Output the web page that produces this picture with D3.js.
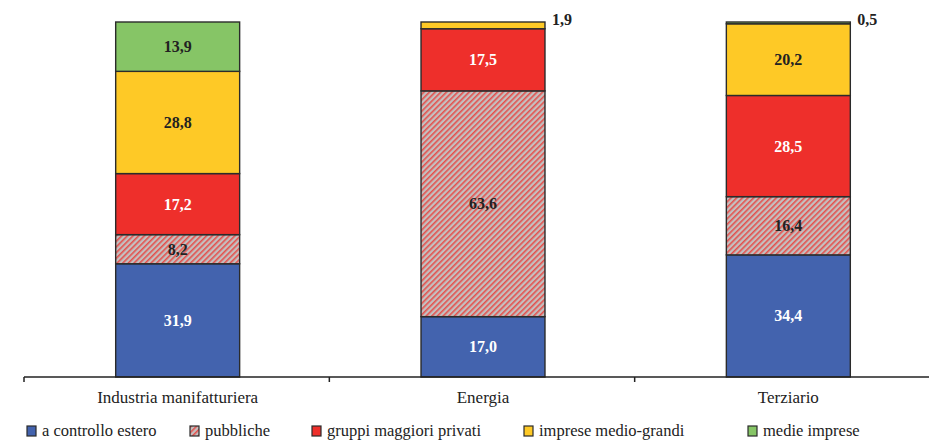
<!DOCTYPE html>
<html>
<head>
<meta charset="utf-8">
<script src="https://cdn.jsdelivr.net/npm/d3@7"></script>
<style>
  body { margin: 0; background: #fff; }
  svg { display: block; }
  svg text { font-family: "Liberation Serif", "DejaVu Serif", serif; }
</style>
</head>
<body>
<svg id="chart" width="929" height="441"></svg>
<script>
// Sectors on the x axis
const categories = ["Industria manifatturiera", "Energia", "Terziario"];
// Series (stack order from bottom to top)
const seriesNames = ["a controllo estero", "pubbliche", "gruppi maggiori privati", "imprese medio-grandi", "medie imprese"];
const esteroVals  = [31.9, 17.0, 34.4];
const pubblicheVals = [8.2, 63.6, 16.4];
const gruppiVals  = [17.2, 17.5, 28.5];
const medioGrandiVals = [28.8, 1.9, 20.2];
const medieVals   = [13.9, 0, 0.5];
const seriesColors = ["#4363ae", "url(#hatch)", "#ee2f2b", "#fec926", "#86c566"];
const labelColors = ["#ffffff", "#222222", "#ffffff", "#222222", "#222222"];

const allVals = [esteroVals, pubblicheVals, gruppiVals, medioGrandiVals, medieVals];
const rows = categories.map((c, i) => {
  const r = { cat: c };
  seriesNames.forEach((s, k) => { r[s] = allVals[k][i]; });
  return r;
});

const svg = d3.select("#chart");
const defs = svg.append("defs");
const pat = defs.append("pattern")
  .attr("id", "hatch").attr("patternUnits", "userSpaceOnUse")
  .attr("width", 4).attr("height", 4)
  .attr("patternTransform", "rotate(45)");
pat.append("rect").attr("width", 4).attr("height", 4).attr("fill", "#c4c0c0");
pat.append("rect").attr("width", 1.6).attr("height", 4).attr("fill", "#e4504c");

const x = d3.scaleBand().domain(categories).range([24, 940]).padding(0);
const barFrac = 0.406;
const y = d3.scaleLinear().domain([0, 100]).range([377, 22]);

const stack = d3.stack().keys(seriesNames);
const stacked = stack(rows);

const layers = svg.append("g").selectAll("g")
  .data(stacked).join("g")
  .attr("fill", (d, i) => seriesColors[i]);

layers.selectAll("rect")
  .data(d => d.filter(p => p[1] - p[0] > 0))
  .join("rect")
  .attr("x", p => x(p.data.cat) + x.bandwidth() * (1 - barFrac) / 2 + 1)
  .attr("width", x.bandwidth() * barFrac)
  .attr("y", p => y(p[1]))
  .attr("height", p => y(p[0]) - y(p[1]))
  .attr("stroke", "#2b2b2b")
  .attr("stroke-width", 1.4);

// value labels: inside the segment, or beside the bar for thin segments
const fmt = v => d3.format(".1f")(v).replace(".", ",");
stacked.forEach((layer, k) => {
  layer.forEach(p => {
    const v = p[1] - p[0];
    if (v <= 0) return;
    const cx = x(p.data.cat) + x.bandwidth() / 2 + 1;
    const inside = v >= 5;
    svg.append("text")
      .attr("x", inside ? cx : x(p.data.cat) + x.bandwidth() * (1 + barFrac) / 2 + 8)
      .attr("y", inside ? y((p[0] + p[1]) / 2) + 5.5 : y(p[1]) + 3)
      .attr("text-anchor", inside ? "middle" : "start")
      .attr("font-weight", "bold")
      .attr("font-size", 16)
      .attr("fill", inside ? labelColors[k] : "#222")
      .text(fmt(v));
  });
});

// category axis with ticks on band boundaries
const axisG = svg.append("g");
axisG.append("line")
  .attr("x1", 24).attr("x2", 940).attr("y1", 377).attr("y2", 377)
  .attr("stroke", "#222").attr("stroke-width", 1.5);
axisG.selectAll("line.tick")
  .data(categories.concat(["_end"]))
  .join("line").attr("class", "tick")
  .attr("x1", (d, i) => i < categories.length ? x(d) : x.range()[1])
  .attr("x2", (d, i) => i < categories.length ? x(d) : x.range()[1])
  .attr("y1", 377).attr("y2", 382)
  .attr("stroke", "#222").attr("stroke-width", 1.5);
axisG.selectAll("text")
  .data(categories).join("text")
  .attr("x", d => x(d) + x.bandwidth() / 2 + 1)
  .attr("y", 403)
  .attr("text-anchor", "middle")
  .attr("font-size", 17)
  .attr("fill", "#222")
  .text(d => d);

// legend
const legendX = [27, 190, 312, 524, 748];
const leg = svg.append("g").selectAll("g")
  .data(seriesNames).join("g")
  .attr("transform", (d, i) => `translate(${legendX[i]},426)`);
leg.append("rect")
  .attr("width", 9).attr("height", 10)
  .attr("fill", (d, i) => seriesColors[i])
  .attr("stroke", "#2b2b2b").attr("stroke-width", 1.2);
leg.append("text")
  .attr("x", 15).attr("y", 10)
  .attr("font-size", 16.5)
  .attr("fill", "#222")
  .text(d => d);
</script>
</body>
</html>
